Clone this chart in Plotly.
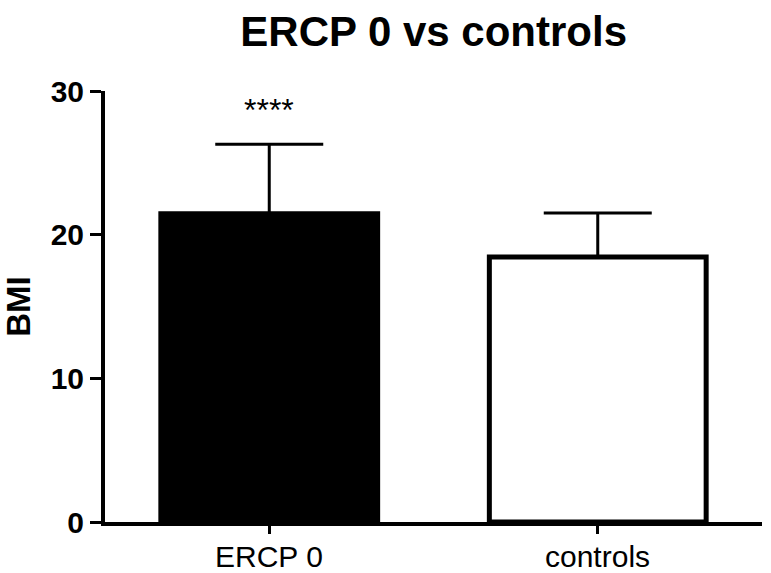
import plotly.graph_objects as go

categories = ["ERCP 0", "controls"]
means = [21.45, 18.45]
sds = [4.85, 3.05]
bar_fill = ["black", "white"]
significance = ["****", ""]
y_ticks = [0, 10, 20, 30]

FONT = "Liberation Sans, Arial, sans-serif"

fig = go.Figure()
fig.add_trace(go.Bar(
    x=categories,
    y=means,
    width=0.66,
    marker=dict(color=bar_fill, line=dict(color="black", width=5)),
    error_y=dict(type="data", array=sds, arrayminus=[0] * len(sds), symmetric=False,
                 color="black", thickness=3, width=54),
    showlegend=False,
))

for cat, m, s, sig in zip(categories, means, sds, significance):
    if sig:
        fig.add_annotation(x=cat, y=m + s, text=sig, showarrow=False,
                           xref="x", yref="y", yanchor="bottom", yshift=14,
                           font=dict(family=FONT, size=32, color="black"))

# category labels under the x axis
for cat in categories:
    fig.add_annotation(x=cat, y=0, text=cat, showarrow=False, xref="x", yref="paper",
                       xanchor="center", yanchor="middle", yshift=-34,
                       font=dict(family=FONT, size=30, color="black"))

fig.add_annotation(text="<b>BMI</b>", xref="paper", yref="paper", x=-0.132, y=0.5,
                   textangle=-90, showarrow=False, xanchor="center", yanchor="middle",
                   font=dict(family=FONT, size=33, color="black"))

fig.update_layout(
    width=771, height=573,
    margin=dict(l=105, r=9, t=91, b=51, autoexpand=False),
    paper_bgcolor="white", plot_bgcolor="white",
    title=dict(text="<b>ERCP 0 vs controls</b>", x=0.5625, xanchor="center",
               y=0.946, yanchor="middle", yref="container",
               font=dict(family=FONT, size=42, color="black")),
    font=dict(family=FONT, color="black"),
)
fig.update_xaxes(range=[-0.5, 1.5], showline=True, linecolor="black", linewidth=4,
                 ticks="outside", ticklen=8, tickwidth=3, tickcolor="black",
                 showticklabels=False,
                 showgrid=False, zeroline=False, automargin=False)
fig.update_yaxes(range=[0, 30], tickvals=y_ticks, ticktext=[f"<b>{v}</b>" for v in y_ticks],
                 showline=True, linecolor="black", linewidth=4,
                 ticks="outside", ticklen=11, tickwidth=3, tickcolor="black",
                 tickfont=dict(family=FONT, size=30, color="black"),
                 showgrid=False, zeroline=False, automargin=False)

fig.write_html("out.html", config={"displayModeBar": False},
               post_script="document.body.style.margin='0';document.body.style.overflow='hidden';")
